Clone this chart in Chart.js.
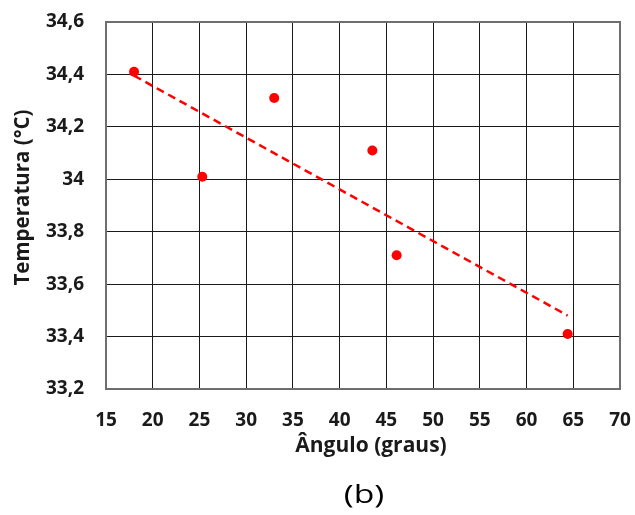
<!DOCTYPE html>
<html>
<head>
<meta charset="utf-8">
<title>Temperatura x Ângulo</title>
<script src="https://cdn.jsdelivr.net/npm/chart.js@4/dist/chart.umd.min.js"></script>
<style>
  html, body { margin: 0; padding: 0; background: #fff; }
  #wrap { width: 635px; height: 515px; }
</style>
</head>
<body>
<div id="wrap"><canvas id="grafico" width="635" height="515"></canvas></div>
<script>
// Medições: ângulo (graus) e temperatura (°C)
const anguloMedido = [18.0, 25.3, 33.0, 43.5, 46.1, 64.4];
const temperaturaMedida = [34.41, 34.01, 34.31, 34.11, 33.71, 33.41];

// Marcas dos eixos
const anguloTicks = [15, 20, 25, 30, 35, 40, 45, 50, 55, 60, 65, 70];
const temperaturaTicks = [33.2, 33.4, 33.6, 33.8, 34.0, 34.2, 34.4, 34.6];
const temperaturaLabels = ['33,2', '33,4', '33,6', '33,8', '34', '34,2', '34,4', '34,6'];

// Textos
const tituloX = 'Ângulo (graus)';
const tituloY = 'Temperatura (°C)';
const legendaPainel = '(b)';

// Reta de tendência (mínimos quadrados) sobre o intervalo medido
function tendenciaLinear(xs, ys) {
  const n = xs.length;
  const mx = xs.reduce((a, b) => a + b, 0) / n;
  const my = ys.reduce((a, b) => a + b, 0) / n;
  let sxy = 0, sxx = 0;
  for (let i = 0; i < n; i++) {
    sxy += (xs[i] - mx) * (ys[i] - my);
    sxx += (xs[i] - mx) * (xs[i] - mx);
  }
  const a = sxy / sxx;
  const b = my - a * mx;
  const x0 = Math.min(...xs), x1 = Math.max(...xs);
  return [{ x: x0, y: a * x0 + b }, { x: x1, y: a * x1 + b }];
}

const pontos = anguloMedido.map((x, i) => ({ x, y: temperaturaMedida[i] }));
const tendencia = tendenciaLinear(anguloMedido, temperaturaMedida);

const FONTE = "'Open Sans', 'Liberation Sans', sans-serif";

// Fundo branco, moldura da área de plotagem e textos dos eixos
const decoracao = {
  id: 'decoracao',
  beforeDraw(chart) {
    const ctx = chart.ctx;
    ctx.save();
    ctx.fillStyle = '#ffffff';
    ctx.fillRect(0, 0, chart.width, chart.height);
    ctx.restore();
  },
  beforeDatasetsDraw(chart) {
    const { ctx, chartArea: a } = chart;
    ctx.save();
    ctx.strokeStyle = '#6e6e6e';
    ctx.lineWidth = 2;
    ctx.strokeRect(a.left, a.top, a.right - a.left, a.bottom - a.top);
    ctx.restore();
  },
  afterDraw(chart) {
    const { ctx, chartArea: a } = chart;
    const cx = (a.left + a.right) / 2;
    const cy = (a.top + a.bottom) / 2;
    ctx.save();
    ctx.fillStyle = '#1a1a1a';
    ctx.textAlign = 'center';
    ctx.textBaseline = 'middle';
    ctx.font = `bold 21px ${FONTE}`;
    ctx.fillText(tituloX, cx + 8, a.bottom + 57);
    ctx.save();
    ctx.translate(23, cy - 8);
    ctx.rotate(-Math.PI / 2);
    ctx.font = `bold 20.5px ${FONTE}`;
    ctx.fillText(tituloY, 0, 0);
    ctx.restore();
    ctx.save();
    ctx.fillStyle = '#000';
    ctx.font = `26px ${FONTE}`;
    ctx.translate(cx + 1, a.bottom + 107);
    ctx.scale(1.3, 1);
    ctx.fillText(legendaPainel, 0, 0);
    ctx.restore();
    ctx.restore();
  }
};

new Chart(document.getElementById('grafico'), {
  type: 'scatter',
  data: {
    datasets: [
      {
        label: 'Medições',
        data: pontos,
        backgroundColor: '#ff0000',
        borderColor: '#ff0000',
        pointRadius: 5,
        pointHoverRadius: 5,
        borderWidth: 0
      },
      {
        label: 'Tendência linear',
        type: 'line',
        data: tendencia,
        borderColor: '#ff0000',
        borderWidth: 2.5,
        borderDash: [8, 5],
        pointRadius: 0,
        fill: false,
        tension: 0
      }
    ]
  },
  options: {
    responsive: false,
    animation: false,
    events: [],
    layout: { padding: { left: 0, right: 15, top: 22, bottom: 0 } },
    plugins: {
      legend: { display: false },
      tooltip: { enabled: false },
      title: { display: false }
    },
    scales: {
      x: {
        type: 'linear',
        min: 15,
        max: 70,
        afterBuildTicks(scale) { scale.ticks = anguloTicks.map(v => ({ value: v })); },
        afterFit(scale) {
          scale.height = 126;
          scale.paddingLeft = 0;
          scale.paddingRight = 0;
        },
        grid: { color: '#1a1a1a', lineWidth: 1, drawTicks: false },
        border: { display: false },
        ticks: {
          padding: 20,
          color: '#1a1a1a',
          font: { family: FONTE, size: 19, weight: 'bold' },
          callback: v => String(v)
        },
        title: { display: false }
      },
      y: {
        type: 'linear',
        min: 33.2,
        max: 34.6,
        afterBuildTicks(scale) { scale.ticks = temperaturaTicks.map(v => ({ value: v })); },
        afterFit(scale) {
          scale.width = 106;
          scale.paddingTop = 0;
          scale.paddingBottom = 0;
        },
        grid: { color: '#1a1a1a', lineWidth: 1, drawTicks: false },
        border: { display: false },
        ticks: {
          padding: 22,
          color: '#1a1a1a',
          font: { family: FONTE, size: 19, weight: 'bold' },
          callback: (v, i) => temperaturaLabels[i]
        },
        title: { display: false }
      }
    }
  },
  plugins: [decoracao]
});
</script>
</body>
</html>
